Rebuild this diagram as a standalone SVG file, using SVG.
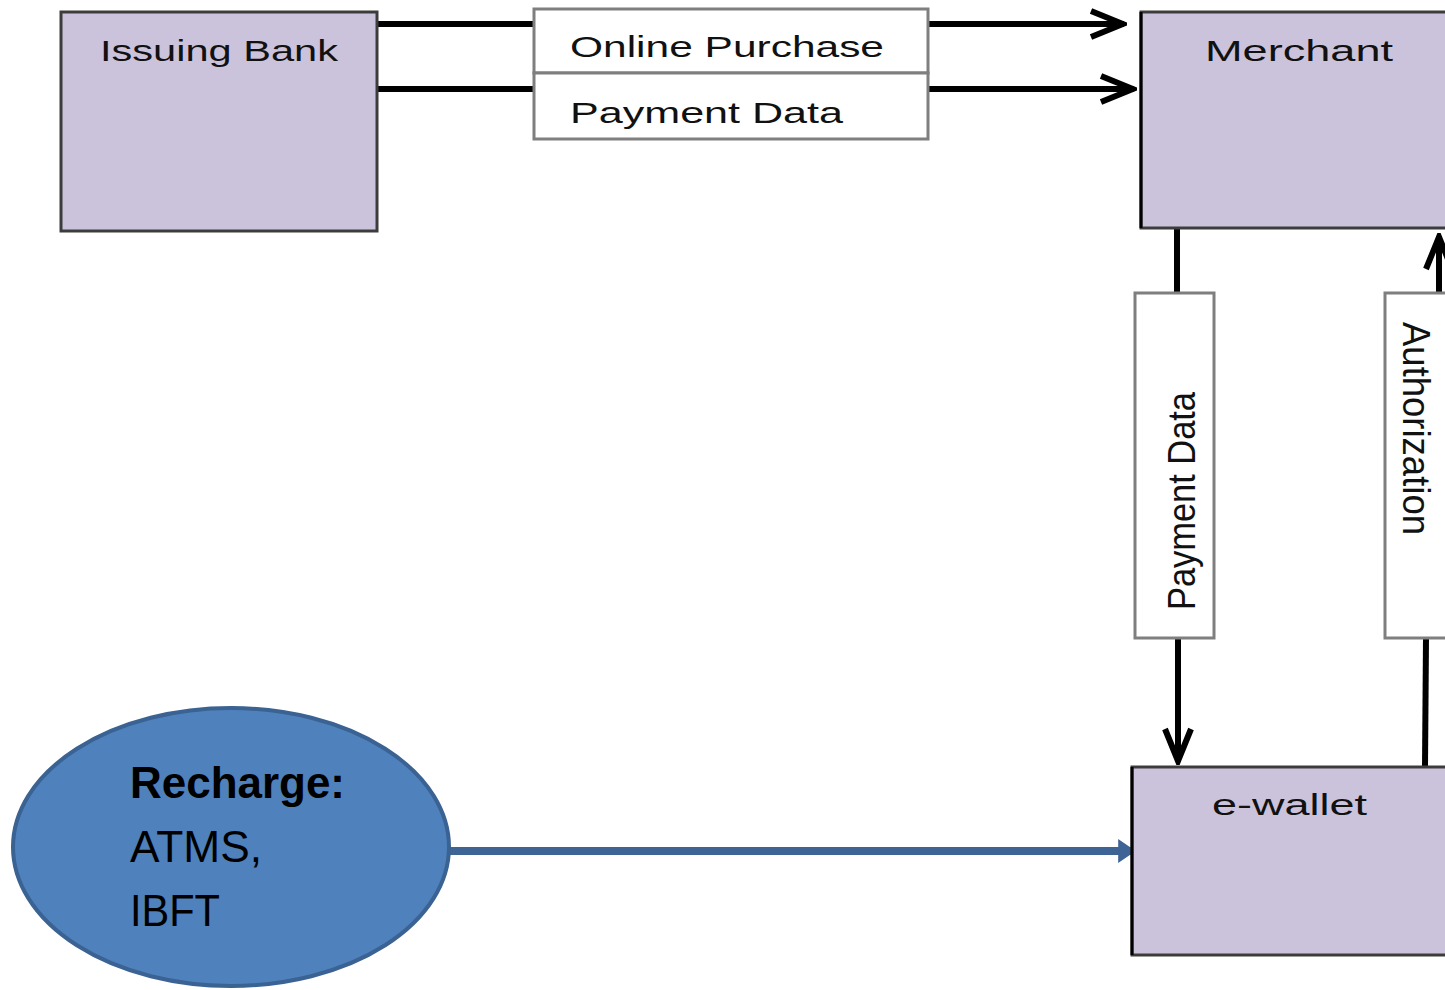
<svg xmlns="http://www.w3.org/2000/svg" width="1445" height="990" viewBox="0 0 1445 990">
<style>
.node{fill:#CBC3DB;stroke:#3c3c3c;stroke-width:3}
.lbl{fill:#ffffff;stroke:#7f7f7f;stroke-width:3}
.t{font-family:"Liberation Sans",Arial,sans-serif;font-size:30px;fill:#111}
.c{fill:none;stroke:#000;stroke-width:6}
.blue{fill:none;stroke:#3E6496;stroke-width:8}
.e{font-family:"Liberation Sans",Arial,sans-serif;font-size:44px;fill:#000}
</style>
<defs>
<marker id="ah" viewBox="0 0 40 32" refX="37" refY="16" markerWidth="40" markerHeight="32" orient="auto" markerUnits="userSpaceOnUse">
<polyline points="4,3 36,16 4,29" fill="none" stroke="#000" stroke-width="6" stroke-linejoin="miter"/>
</marker>
<marker id="ahb" viewBox="0 0 10 10" refX="9" refY="5" markerWidth="2.2" markerHeight="3" orient="auto" preserveAspectRatio="none">
<polygon points="0,0 10,5 0,10" fill="#3E6496"/>
</marker>
</defs>
<rect width="1445" height="990" fill="#fff"/>
<g id="connectors">
<line class="c" x1="377" y1="24" x2="534" y2="24"/>
<line class="c" x1="928" y1="24" x2="1124" y2="24" marker-end="url(#ah)"/>
<line class="c" x1="377" y1="89" x2="534" y2="89"/>
<line class="c" x1="928" y1="89" x2="1134" y2="89" marker-end="url(#ah)"/>
<line class="c" x1="1177" y1="228" x2="1177" y2="293"/>
<line class="c" x1="1178" y1="638" x2="1178" y2="762" marker-end="url(#ah)"/>
<line class="c" x1="1425" y1="767" x2="1426" y2="638"/>
<line class="c" x1="1439" y1="293" x2="1439" y2="236" marker-end="url(#ah)"/>
<line class="blue" x1="450" y1="851" x2="1134" y2="851" marker-end="url(#ahb)"/>
</g>
<g id="issuing-bank">
<rect class="node" x="61" y="12" width="316" height="219"/>
<text class="t" x="100" y="61" textLength="238" lengthAdjust="spacingAndGlyphs">Issuing Bank</text>
</g>
<g id="merchant">
<rect class="node" x="1141" y="12" width="310" height="216"/>
<line x1="1141" y1="12" x2="1141" y2="228" stroke="#000" stroke-width="3"/>
<text class="t" x="1205" y="61" textLength="188" lengthAdjust="spacingAndGlyphs">Merchant</text>
</g>
<g id="ewallet">
<rect class="node" x="1132" y="767" width="320" height="188"/>
<line x1="1132" y1="767" x2="1132" y2="955" stroke="#000" stroke-width="3"/>
<text class="t" x="1212" y="815" textLength="155" lengthAdjust="spacingAndGlyphs">e-wallet</text>
</g>
<g id="label-online-purchase">
<rect class="lbl" x="534" y="9" width="394" height="64"/>
<text class="t" x="570" y="57" textLength="314" lengthAdjust="spacingAndGlyphs">Online Purchase</text>
</g>
<g id="label-payment-data-top">
<rect class="lbl" x="534" y="73" width="394" height="66"/>
<text class="t" x="570" y="123" textLength="273" lengthAdjust="spacingAndGlyphs">Payment Data</text>
</g>
<g id="label-payment-data-vertical">
<rect class="lbl" x="1135" y="293" width="79" height="345"/>
<text class="t" transform="translate(1195 610) rotate(-90)" style="font-size:38px" textLength="218" lengthAdjust="spacingAndGlyphs">Payment Data</text>
</g>
<g id="label-authorization">
<rect class="lbl" x="1385" y="293" width="70" height="345"/>
<text class="t" transform="translate(1403 322) rotate(90)" style="font-size:38px" textLength="213" lengthAdjust="spacingAndGlyphs">Authorization</text>
</g>
<g id="recharge">
<ellipse cx="231" cy="847" rx="218" ry="139" fill="#4F81BD" stroke="#3A6292" stroke-width="4"/>
<text class="e" x="130" y="798" font-weight="bold" textLength="215" lengthAdjust="spacingAndGlyphs">Recharge:</text>
<text class="e" x="130" y="862" textLength="132" lengthAdjust="spacingAndGlyphs">ATMS,</text>
<text class="e" x="130" y="926" textLength="90" lengthAdjust="spacingAndGlyphs">IBFT</text>
</g>
</svg>
